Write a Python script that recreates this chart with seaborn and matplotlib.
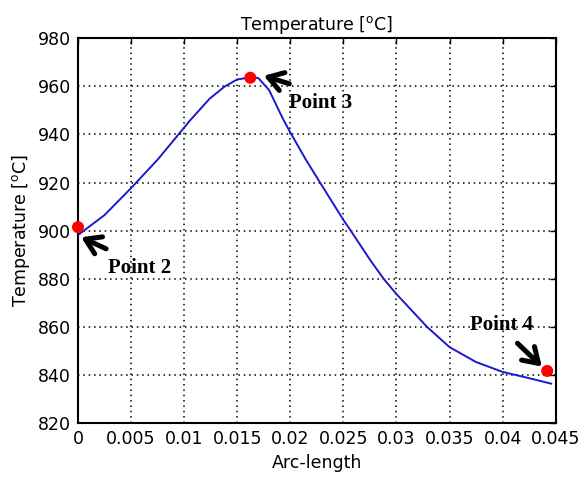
import matplotlib
matplotlib.use("Agg")
import matplotlib.pyplot as plt
import seaborn as sns
import pandas as pd

# Curve data
arc_length = [0, 0.0025, 0.005, 0.0075, 0.01, 0.0105, 0.0124, 0.0138, 0.015, 0.0165,
              0.017, 0.018, 0.0193, 0.02, 0.0214, 0.0228, 0.025, 0.0257, 0.0275, 0.0288,
              0.03, 0.0329, 0.035, 0.0375, 0.04, 0.0425, 0.0446]
temperature = [898.2, 906.5, 917.7, 929.5, 942.8, 945.5, 954.8, 959.8, 962.8, 963.8,
               963.3, 958.4, 946.5, 940.8, 930, 920, 904.5, 900, 888, 880,
               873.7, 860, 851.7, 845.5, 841.4, 838.8, 836.5]

# Marked points
point_names = ["Point 2", "Point 3", "Point 4"]
point_x = [0.0, 0.01623, 0.0442]
point_y = [901.5, 963.5, 841.8]

x_ticks = [0, 0.005, 0.01, 0.015, 0.02, 0.025, 0.03, 0.035, 0.04, 0.045]
x_tick_labels = ["0", "0.005", "0.01", "0.015", "0.02", "0.025", "0.03", "0.035", "0.04", "0.045"]
y_ticks = [820, 840, 860, 880, 900, 920, 940, 960, 980]

sns.set_style("white")
plt.rcParams['font.family'] = ['DejaVu Sans']
plt.rcParams['text.color'] = 'black'
plt.rcParams['axes.labelcolor'] = 'black'

fig = plt.figure(figsize=(5.85, 4.82), dpi=100)
ax = fig.add_axes([0.1333, 0.1214, 0.8166, 0.7998])

df = pd.DataFrame({"x": arc_length, "y": temperature})
sns.lineplot(data=df, x="x", y="y", sort=False, estimator=None, ax=ax,
             color="#1a1acc", linewidth=1.4, zorder=3)
pts = pd.DataFrame({"x": point_x, "y": point_y, "name": point_names})
sns.scatterplot(data=pts, x="x", y="y", ax=ax, color="#ff0000", s=75,
                edgecolor="none", zorder=5, clip_on=False)

ax.set_xlim(0, 0.045)
ax.set_ylim(820, 980)
ax.set_xticks(x_ticks)
ax.set_xticklabels(x_tick_labels)
ax.set_yticks(y_ticks)
ax.tick_params(direction="in", length=4, width=1, top=True, right=True,
               labelsize=12.5, colors="black", pad=5)
ax.grid(True, linestyle=(0, (1, 2.5)), color="black", linewidth=1.1)
for s in ax.spines.values():
    s.set_color("black")
    s.set_linewidth(1.5)
    s.set_visible(True)

ax.set_title("Temperature [$^{\\mathrm{o}}$C]", fontsize=12.5, pad=6, color="black")
ax.set_xlabel("Arc-length", fontsize=12.5, labelpad=4, color="black")
ax.set_ylabel("Temperature [$^{\\mathrm{o}}$C]", fontsize=12.5, labelpad=4, color="black")

arrow_kw = dict(arrowstyle="->,head_length=0.5,head_width=0.32", lw=3.6, color="black",
                mutation_scale=21, shrinkA=0, shrinkB=0)
text_kw = dict(fontsize=15, fontweight="bold", family="Liberation Serif",
               va="center", ha="left", color="black")
# annotations: (arrow head, arrow tail, text position)
ax.annotate("", xy=(0.0003, 897.3), xytext=(0.00265, 892.5), arrowprops=arrow_kw, zorder=6)
ax.text(0.0028, 884.5, point_names[0], **text_kw)
ax.annotate("", xy=(0.0175, 964.3), xytext=(0.0199, 961.0), arrowprops=arrow_kw, zorder=6)
ax.text(0.0199, 953.2, point_names[1], **text_kw)
ax.annotate("", xy=(0.0437, 843.6), xytext=(0.0414, 853.3), arrowprops=arrow_kw, zorder=6)
ax.text(0.0369, 860.7, point_names[2], **text_kw)

fig.savefig("out.png", dpi=100)
